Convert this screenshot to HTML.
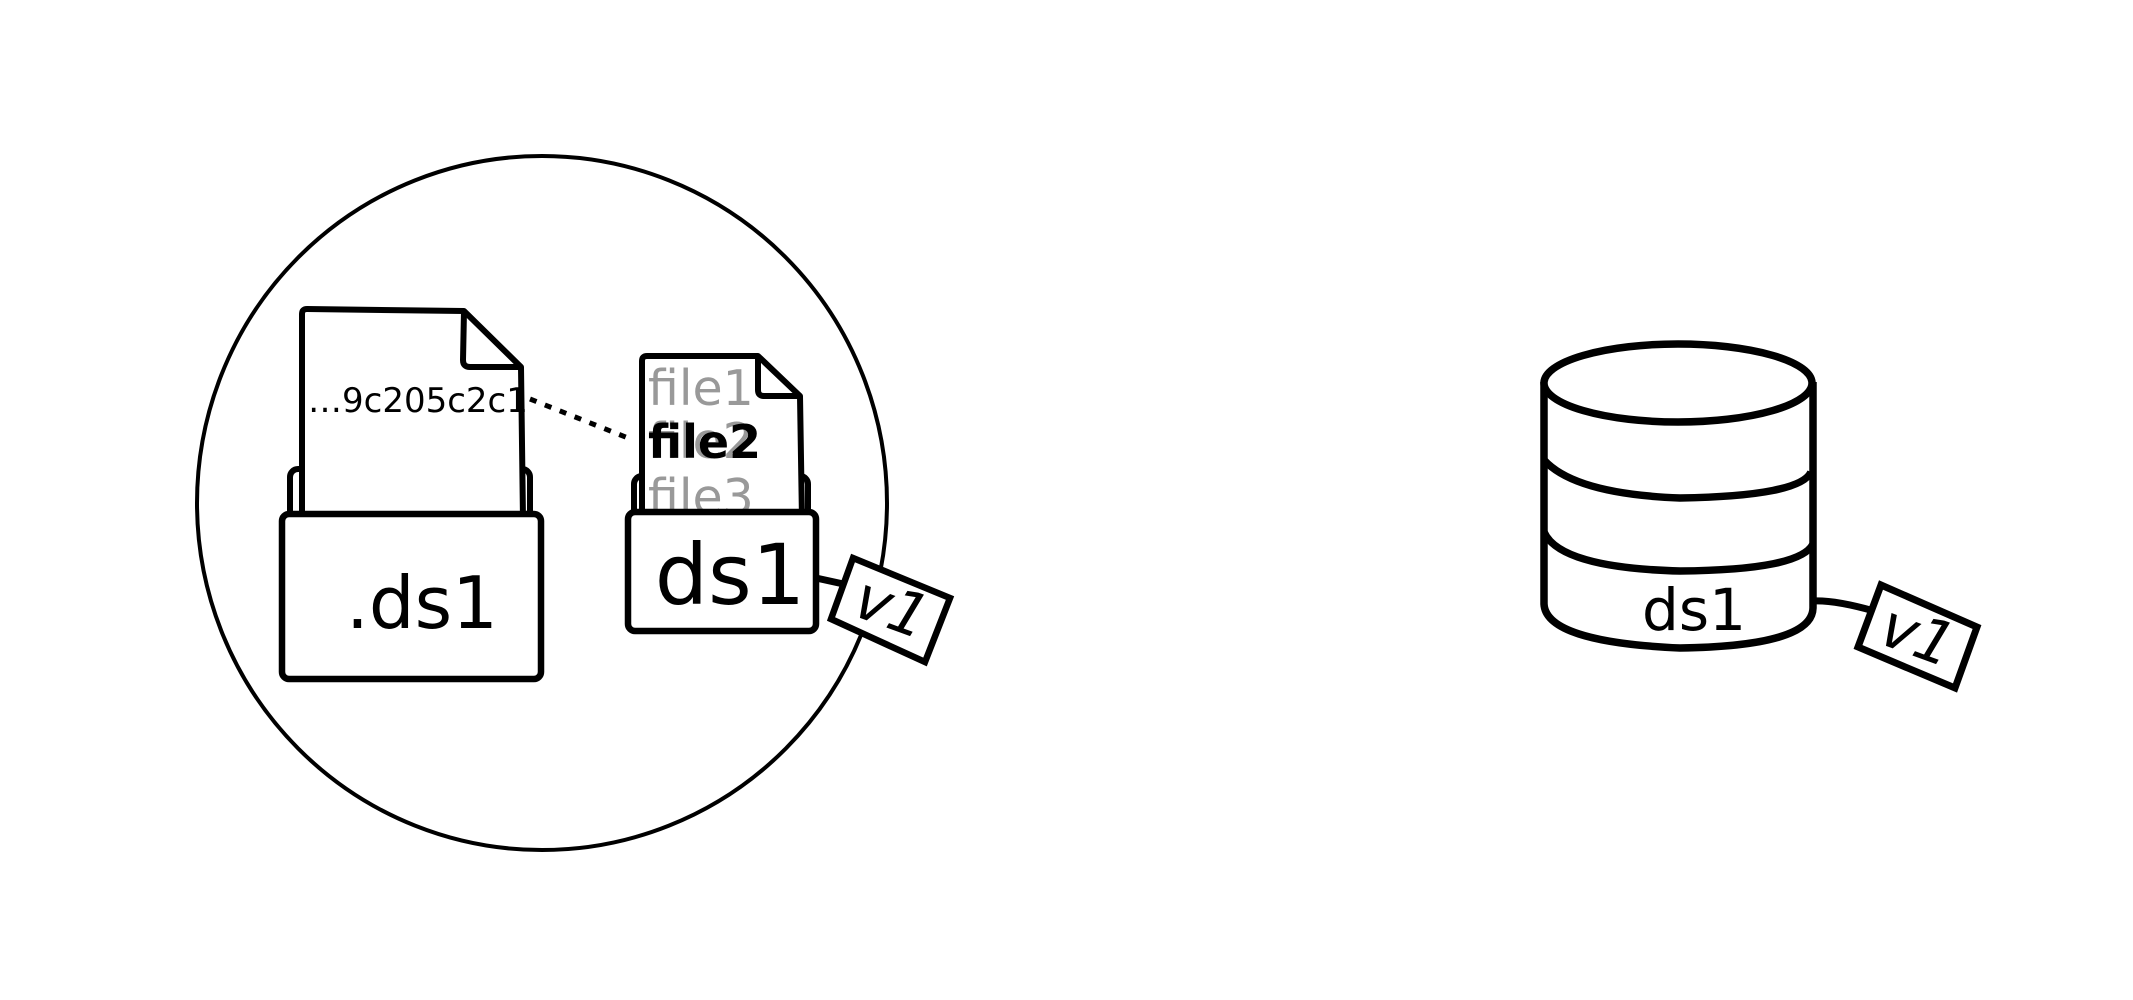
<!DOCTYPE html>
<html><head><meta charset="utf-8"><style>html,body{margin:0;padding:0;background:#fff;width:2133px;height:1000px;overflow:hidden}</style></head>
<body>
<svg width="2133" height="1000" viewBox="0 0 2133 1000" xmlns="http://www.w3.org/2000/svg" font-family="'DejaVu Sans','Liberation Sans',sans-serif">
<ellipse cx="542" cy="503" rx="345" ry="347" fill="none" stroke="#000" stroke-width="4"/>
<rect x="290" y="469" width="240" height="60" rx="8" fill="#fff" stroke="#000" stroke-width="6"/>
<path d="M302 314 Q302 309 307 309 L464 311 L521 367 L523 520 L302 520 Z" fill="#fff" stroke="#000" stroke-width="6" stroke-linejoin="round"/>
<path d="M464 311 L463 360 Q463 367 470 367 L521 367" fill="none" stroke="#000" stroke-width="6" stroke-linejoin="round"/>
<text x="308" y="412" font-size="34" fill="#000">…9c205c2c1</text>
<line x1="530" y1="399" x2="628" y2="438" stroke="#000" stroke-width="5" stroke-dasharray="7,9"/>
<rect x="282" y="514" width="259" height="165" rx="7" fill="#fff" stroke="#000" stroke-width="6.5"/>
<text x="422" y="628" font-size="72" text-anchor="middle" fill="#000">.ds1</text>
<rect x="634" y="476" width="174" height="60" rx="8" fill="#fff" stroke="#000" stroke-width="6"/>
<path d="M642 361 Q642 356 647 356 L758 356 L800 396 L802 520 L642 520 Z" fill="#fff" stroke="#000" stroke-width="6" stroke-linejoin="round"/>
<path d="M758 356 L758 390 Q758 396 764 396 L800 396" fill="none" stroke="#000" stroke-width="6" stroke-linejoin="round"/>
<text x="648" y="405" font-size="49" fill="#999">file1</text>
<text x="648" y="458" font-size="49" fill="#999">file2</text>
<text x="648" y="458" font-size="46" font-weight="bold" fill="#000">file2</text>
<text x="648" y="514" font-size="49" fill="#999">file3</text>
<rect x="628" y="512" width="188" height="119" rx="7" fill="#fff" stroke="#000" stroke-width="6.5"/>
<text x="730" y="604" font-size="84" text-anchor="middle" fill="#000">ds1</text>
<line x1="816" y1="578" x2="848" y2="585" stroke="#000" stroke-width="7"/>
<polygon points="853,558 950,598 925,662 831,619" fill="#fff" stroke="#000" stroke-width="6.5"/>
<text x="891" y="628" font-size="60" font-style="italic" text-anchor="middle" fill="#000" transform="rotate(20 891 610)">v1</text>
<path d="M1544 382 L1544 604 Q1546 642 1680 648 Q1812 646 1813 608 L1813 382" fill="#fff" stroke="#000" stroke-width="7.5"/>
<ellipse cx="1678" cy="383" rx="134" ry="39" fill="#fff" stroke="#000" stroke-width="7.5"/>
<path d="M1544 460 Q1575 494 1680 498 Q1800 496 1811 472" fill="none" stroke="#000" stroke-width="7.5"/>
<path d="M1544 532 Q1560 568 1680 571 Q1800 570 1813 544" fill="none" stroke="#000" stroke-width="7.5"/>
<text x="1694" y="630" font-size="58" text-anchor="middle" fill="#000">ds1</text>
<path d="M1813 601 Q1835 600 1874 611" fill="none" stroke="#000" stroke-width="7"/>
<polygon points="1881,585 1977,627 1955,688 1858,647" fill="#fff" stroke="#000" stroke-width="7"/>
<text x="1917" y="656" font-size="60" font-style="italic" text-anchor="middle" fill="#000" transform="rotate(20 1917 638)">v1</text>
</svg>
</body></html>
